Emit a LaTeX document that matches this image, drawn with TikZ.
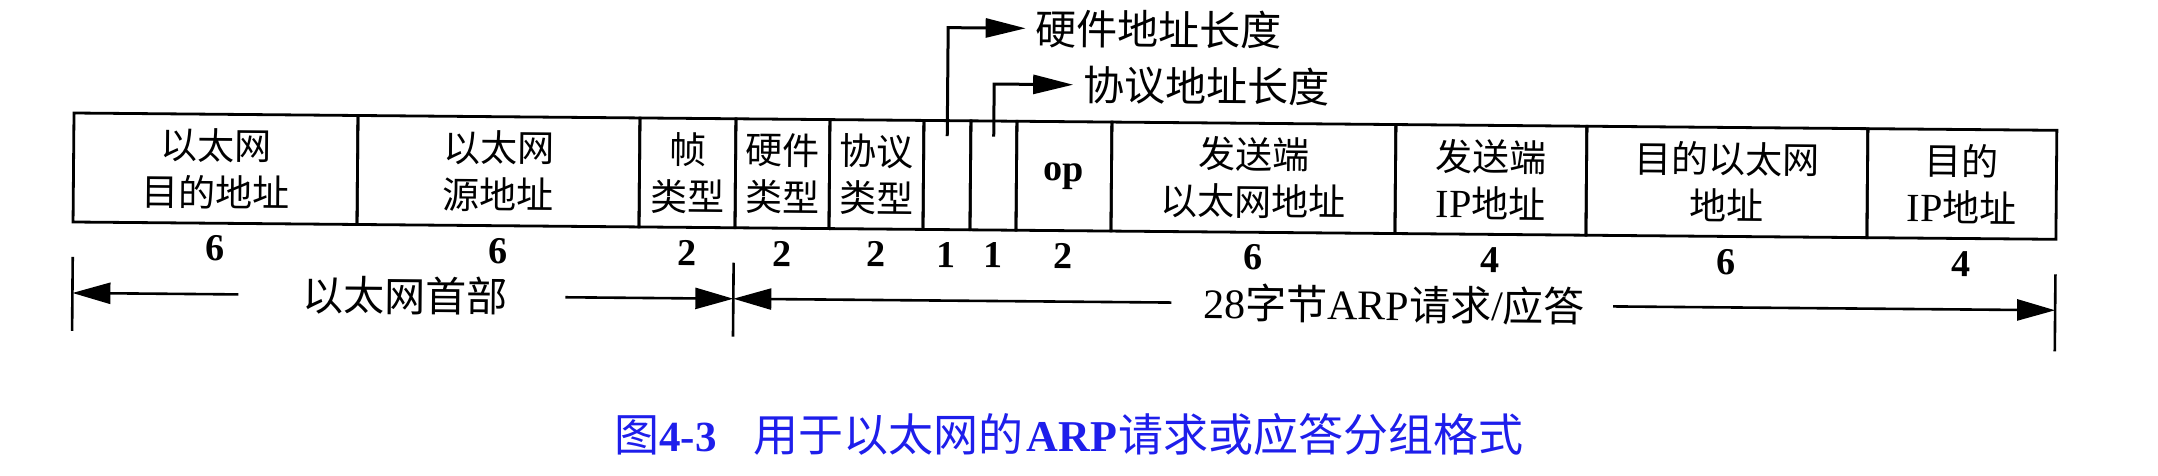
\documentclass[tikz,border=0pt]{standalone}
\usepackage{fontspec}
\setmainfont{Liberation Serif}
\newfontfamily\zh{Noto Sans CJK SC}
\usetikzlibrary{arrows.meta}
\definecolor{capblue}{RGB}{30,30,235}
\newcommand\latn[2]{{\rmfamily\fontsize{#1}{#1}\selectfont #2}}
\newcommand\latb[2]{{\rmfamily\bfseries\fontsize{#1}{#1}\selectfont #2}}
\begin{document}
\begin{tikzpicture}[x=1pt,y=-1pt,
  cell/.style={draw, line width=2.8pt, minimum height=109pt, inner sep=0pt, align=center, font=\fontsize{37}{47}\selectfont\zh},
  num/.style={font=\fontsize{38}{38}\selectfont\bfseries, inner sep=0pt},
  ptr/.style={line width=3pt, -{Triangle[length=40pt,width=19pt]}, shorten >=10pt},
  brk/.style={line width=2.6pt, -{Triangle[length=38pt,width=21pt]}},
  tick/.style={line width=2.6pt},
  lab/.style={font=\fontsize{41}{41}\selectfont\zh, inner sep=0pt},
  blab/.style={font=\fontsize{41}{41}\selectfont\zh, inner sep=0pt},
]
\useasboundingbox (0,0) rectangle (2158,475);
\begin{scope}[rotate around={-0.5:(74,113)}, transform shape]
% cells
\node[cell, minimum width=284pt] (c1) at (216,167.5) {以太网\\目的地址};
\node[cell, minimum width=282pt] (c2) at (499,167.5) {以太网\\源地址};
\node[cell, minimum width=96pt] (c3) at (688,167.5) {帧\\类型};
\node[cell, minimum width=94pt] (c4) at (783,167.5) {硬件\\类型};
\node[cell, minimum width=94pt] (c5) at (877,167.5) {协议\\类型};
\node[cell, minimum width=47pt] (c6) at (947.5,167.5) {};
\node[cell, minimum width=46pt] (c7) at (994,167.5) {};
\node[cell, minimum width=95pt, font=\fontsize{38}{38}\selectfont\bfseries] (c8) at (1064.5,167.5) {op};
\node[cell, minimum width=284pt] (c9) at (1254,167.5) {发送端\\以太网地址};
\node[cell, minimum width=191pt] (c10) at (1491.5,167.5) {发送端\\\latn{40}{IP}地址};
\node[cell, minimum width=281pt] (c11) at (1727.5,167.5) {目的以太网\\地址};
\node[cell, minimum width=189pt] (c12) at (1962.5,167.5) {目的\\\latn{40}{IP}地址};
% sizes
\node[num] (n1) at ([yshift=-24pt]c1.south) {6};
\node[num] (n2) at ([yshift=-24pt]c2.south) {6};
\node[num] (n3) at ([yshift=-24pt]c3.south) {2};
\node[num] (n4) at ([yshift=-24pt]c4.south) {2};
\node[num] (n5) at ([yshift=-24pt]c5.south) {2};
\node[num] (n6) at ([yshift=-24pt]c6.south) {1};
\node[num] (n7) at ([yshift=-24pt]c7.south) {1};
\node[num] (n8) at ([yshift=-24pt]c8.south) {2};
\node[num] (n9) at ([yshift=-24pt]c9.south) {6};
\node[num] (n10) at ([yshift=-24pt]c10.south) {4};
\node[num] (n11) at ([yshift=-24pt]c11.south) {6};
\node[num] (n12) at ([yshift=-24pt]c12.south) {4};
% pointer labels
\node[lab, anchor=west] (h1) at (1035,20) {硬件地址长度};
\node[lab, anchor=west] (h2) at (1083,76) {协议地址长度};
\draw[ptr] ([yshift=-17pt]c6.north) |- (h1.west);
\draw[ptr] ([yshift=-17pt]c7.north) |- (h2.west);
% brackets
\coordinate (b0t) at (74,257); \coordinate (b0b) at (74,331);
\coordinate (b1t) at (735,257); \coordinate (b1b) at (735,331);
\coordinate (b2t) at (2057,257); \coordinate (b2b) at (2057,334);
\draw[tick] (b0t) -- (b0b);
\draw[tick] (b1t) -- (b1b);
\draw[tick] (b2t) -- (b2b);
\coordinate (a1) at (74,293);
\coordinate (a2) at (735,293);
\coordinate (a3) at (2057,293);
\node[blab] (t1) at (407,293) {以太网首部};
\node[blab] (t2) at (1396,293) {\latn{42}{28}字节\latn{42}{ARP}请求\latn{42}{/}应答};
\coordinate (l1) at (240,293);
\coordinate (r1) at (567,293);
\coordinate (l2) at (1173,293);
\coordinate (r2) at (1615,293);
\draw[brk] (l1) -- (a1);
\draw[brk] (r1) -- (a2);
\draw[brk] (l2) -- (a2);
\draw[brk] (r2) -- (a3);
\end{scope}
% caption
\node[font=\fontsize{45}{45}\selectfont\zh, text=capblue, inner sep=0pt, anchor=west] (cap) at (614,434)
  {图\latb{43}{4-3}\hspace{37pt}用于以太网的\hspace{3pt}\latb{44}{ARP}\hspace{2pt}请求或应答分组格式};
\end{tikzpicture}
\end{document}
